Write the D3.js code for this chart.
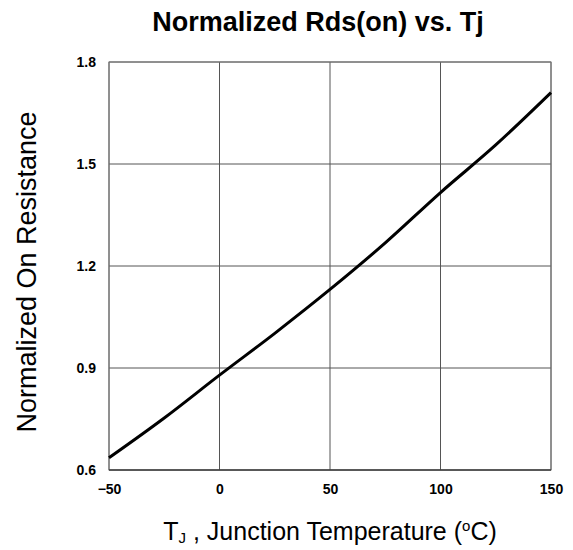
<!DOCTYPE html>
<html><head><meta charset="utf-8">
<script src="https://cdn.jsdelivr.net/npm/d3@7"></script>
<style>body{margin:0;background:#fff}svg{display:block}</style>
</head><body>
<script>
const tempC = [-50, -25, 0, 25, 50, 75, 100, 125, 150];
const rdsNorm = [0.636, 0.753, 0.879, 1.002, 1.131, 1.268, 1.416, 1.556, 1.71];
const xTicks = [-50, 0, 50, 100, 150];
const yTicks = [0.6, 0.9, 1.2, 1.5, 1.8];
const titleText = "Normalized Rds(on) vs. Tj";
const yLabel = "Normalized On Resistance";

const W = 573, H = 550;
const m = {left:109, right:22, top:62, bottom:80};
const svg = d3.select("body").append("svg").attr("width", W).attr("height", H);
const x = d3.scaleLinear().domain([-50,150]).range([m.left, W-m.right]);
const y = d3.scaleLinear().domain([0.6,1.8]).range([H-m.bottom, m.top]);
const font = "'Liberation Sans', Arial, sans-serif";

// grid
svg.append("g").selectAll("line").data(xTicks).join("line")
  .attr("x1", d=>x(d)).attr("x2", d=>x(d)).attr("y1", y(0.6)).attr("y2", y(1.8))
  .attr("stroke", "#555").attr("stroke-width", 1);
svg.append("g").selectAll("line").data(yTicks).join("line")
  .attr("y1", d=>y(d)).attr("y2", d=>y(d)).attr("x1", x(-50)).attr("x2", x(150))
  .attr("stroke", "#555").attr("stroke-width", 1);
svg.append("rect").attr("x", x(-50)).attr("y", y(1.8)).attr("width", x(150)-x(-50)).attr("height", y(0.6)-y(1.8))
  .attr("fill","none").attr("stroke","#777").attr("stroke-width",1);
svg.append("line").attr("x1", x(-50)).attr("x2", x(150)).attr("y1", y(0.6)).attr("y2", y(0.6)).attr("stroke","#222");

// axes
const xAxis = svg.append("g").attr("transform", `translate(0,${y(0.6)})`)
  .call(d3.axisBottom(x).tickValues(xTicks).tickSize(0).tickPadding(14).tickFormat(d3.format("d")));
const yAxis = svg.append("g").attr("transform", `translate(${x(-50)},0)`)
  .call(d3.axisLeft(y).tickValues(yTicks).tickSize(0).tickPadding(13).tickFormat(d3.format(".1f")));
[xAxis, yAxis].forEach(a => {
  a.select(".domain").remove();
  a.selectAll("text").attr("font-family", font).attr("font-weight","bold").attr("font-size", 14).attr("fill","#000");
});

// curve
svg.append("path").datum(tempC.map((t,i)=>[t, rdsNorm[i]]))
  .attr("d", d3.line().x(d=>x(d[0])).y(d=>y(d[1])).curve(d3.curveMonotoneX))
  .attr("fill","none").attr("stroke","#000").attr("stroke-width",3);

// title
svg.append("text").attr("x", 318).attr("y", 31).attr("text-anchor","middle")
  .attr("font-family", font).attr("font-weight","bold").attr("font-size", 27).text(titleText);

// y label
svg.append("text").attr("transform", `translate(36,272) rotate(-90)`).attr("text-anchor","middle")
  .attr("font-family", font).attr("font-size", 27).text(yLabel);

// x label
const xl = svg.append("text").attr("x", 330).attr("y", 540).attr("text-anchor","middle")
  .attr("font-family", font).attr("font-size", 25);
xl.append("tspan").text("T");
xl.append("tspan").attr("font-size", 15).attr("dy", 3).text("J");
xl.append("tspan").attr("dy", -3).text(" , Junction Temperature (");
xl.append("tspan").attr("font-size", 15).attr("dy", -9).text("o");
xl.append("tspan").attr("dy", 9).text("C)");
</script>
</body></html>
